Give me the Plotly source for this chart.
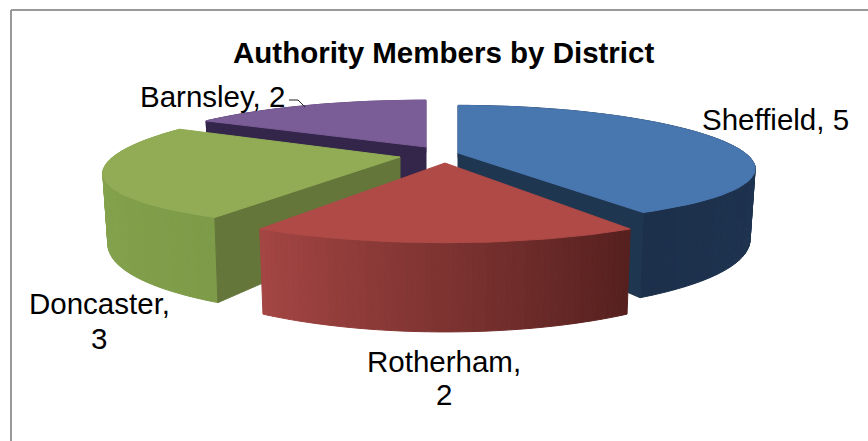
import numpy as np
import plotly.graph_objects as go

categories = ["Sheffield", "Rotherham", "Doncaster", "Barnsley"]
members = [5, 2, 3, 2]

# exploded-pie look: pull of each slice from the pie centre, in pixels
CENTER = (432, 155)
PULL_X = [26, 13, -32, -6]
PULL_Y = [-2, 8, 2, -8]
TOP = ["#4876AF", "#AF4A46", "#91AC55", "#7A5C96"]
RADIAL = ["#1F3650", None, "#64763A", "#33264A"]
WALL_A = [(36, 60, 90), (85, 32, 30), (125, 155, 72), (60, 45, 85)]   # at slice start angle
WALL_B = [(28, 48, 75), (165, 70, 68), (142, 172, 84), (122, 92, 150)]  # at slice end angle
FRONT_EDGE = [1, None, 0, 0]  # which straight side of each slice faces the viewer

A, K, H = 287.0, 0.26, 66.0  # horizontal radius, perspective, depth
B_SLICE = [57.0, 59.0, 60.0, 59.0]  # vertical radius per slice
K_SLICE = [0.197, 0.26, 0.162, 0.26]  # vertical perspective per slice
SHRINK = 0.983


def project(theta, i, ax, ay, depth):
    x = np.sin(theta)
    yf = -np.cos(theta)
    w = 1 / (1 - K * yf)
    sy = ay + B_SLICE[i] * yf / (1 - K_SLICE[i] * yf)
    if depth:
        return ax + A * x * w * SHRINK, sy + H * w
    return ax + A * x * w, sy


def hexrgb(c):
    return "rgb(%d,%d,%d)" % tuple(int(round(v)) for v in c)


def poly(xs, ys, color):
    return go.Scatter(
        x=list(xs) + [xs[0]], y=list(ys) + [ys[0]], mode="lines", fill="toself",
        fillcolor=color, line=dict(color=color, width=1), hoverinfo="skip", showlegend=False,
    )


fig = go.Figure()
total = sum(members)
edges = np.cumsum([0] + members) / total * 2 * np.pi

for i in [3, 2, 0, 1]:  # back to front
    t0, t1 = edges[i], edges[i + 1]
    ax, ay = CENTER[0] + PULL_X[i], CENTER[1] + PULL_Y[i]
    ts = np.linspace(t0, t1, 61)

    # curved outer wall, as shaded strips drawn back to front
    strips = list(range(60))
    strips.sort(key=lambda j: -np.cos((ts[j] + ts[j + 1]) / 2))
    for j in strips:
        a, b = ts[j], ts[j + 1]
        xa, ya = project(a, i, ax, ay, False)
        xb, yb = project(b, i, ax, ay, False)
        xc, yc = project(b, i, ax, ay, True)
        xd, yd = project(a, i, ax, ay, True)
        f = (j + 0.5) / 60
        c = [WALL_A[i][k] + (WALL_B[i][k] - WALL_A[i][k]) * f for k in range(3)]
        fig.add_trace(poly([xa, xb, xc, xd], [ya, yb, yc, yd], hexrgb(c)))

    # straight side facing the viewer
    if FRONT_EDGE[i] is not None:
        t = t1 if FRONT_EDGE[i] else t0
        x0, y0 = project(t, i, ax, ay, False)
        x1, y1 = project(t, i, ax, ay, True)
        fig.add_trace(poly([ax, x0, x1, ax], [ay, y0, y1, ay + H], RADIAL[i]))

    # top face
    xr, yr = project(ts, i, ax, ay, False)
    fig.add_trace(poly([ax] + list(xr), [ay] + list(yr), TOP[i]))

# leader line of the Barnsley label
fig.add_trace(go.Scatter(x=[289, 298, 305], y=[100, 100, 107], mode="lines",
                         line=dict(color="#222222", width=1), hoverinfo="skip", showlegend=False))

FONT = "Liberation Sans, Arial, sans-serif"
labels = [
    (f"{categories[0]}, {members[0]}", 775, 119),
    (f"{categories[1]},", 444, 361),
    (f"{members[1]}", 444, 394),
    (f"{categories[2]},", 99, 303),
    (f"{members[2]}", 99, 338),
    (f"{categories[3]}, {members[3]}", 212, 96),
]
annotations = [
    dict(x=x, y=y, text=t, showarrow=False, xanchor="center", yanchor="middle",
         font=dict(family=FONT, size=29.5, color="black"))
    for t, x, y in labels
]
annotations.append(dict(x=443, y=52, text="<b>Authority Members by District</b>", showarrow=False,
                        xanchor="center", yanchor="middle",
                        font=dict(family=FONT, size=29.5, color="black")))

fig.update_layout(
    width=868, height=441, margin=dict(l=0, r=0, t=0, b=0),
    paper_bgcolor="white", plot_bgcolor="white", showlegend=False,
    xaxis=dict(range=[0, 868], visible=False, fixedrange=True),
    yaxis=dict(range=[441, 0], visible=False, fixedrange=True),
    annotations=annotations,
    shapes=[
        dict(type="line", x0=11, x1=868, y0=10, y1=10, line=dict(color="#999999", width=2)),
        dict(type="line", x0=11, x1=11, y0=10, y1=441, line=dict(color="#999999", width=2)),
    ],
)
fig.write_html("out.html", config={"displayModeBar": False},
               post_script="document.body.style.margin='0';document.documentElement.style.overflow='hidden';")
